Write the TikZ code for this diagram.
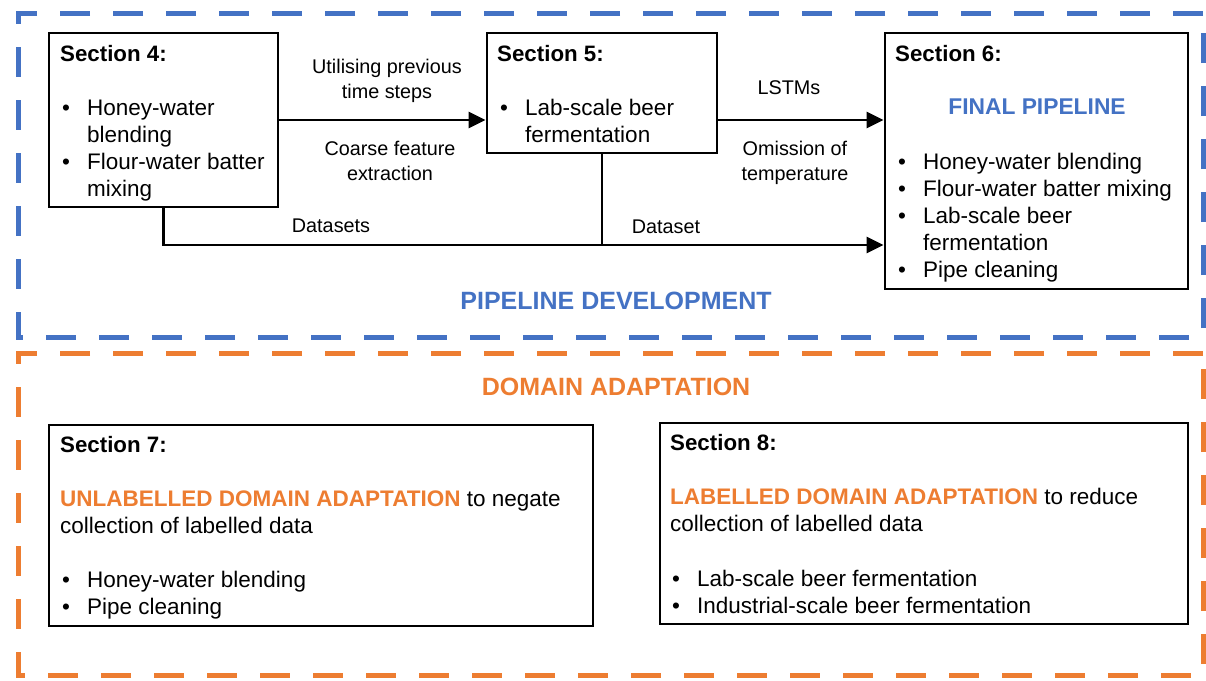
\documentclass[tikz,border=0pt]{standalone}
\usepackage{fontspec}
\setmainfont{Liberation Sans}
\usetikzlibrary{arrows.meta}
\definecolor{pblue}{HTML}{4472C4}
\definecolor{porange}{HTML}{ED7D31}
\begin{document}
\begin{tikzpicture}[x=1pt,y=-1pt,
  box/.style={draw=black,line width=2.8pt,inner sep=0pt},
  frame/.style={line width=5pt,dash pattern=on 30pt off 23pt},
  txt/.style={anchor=base west,inner sep=0pt,font=\fontsize{22.5}{27}\selectfont},
  head/.style={txt,font=\fontsize{22.3}{27}\selectfont\bfseries},
  bul/.style={anchor=base west,inner sep=0pt,font=\fontsize{22.5}{27}\selectfont},
  lab/.style={align=center,inner sep=0pt,font=\fontsize{19.8}{25}\selectfont},
  title/.style={inner sep=0pt,font=\fontsize{25}{30}\selectfont\bfseries},
  conn/.style={line width=2.8pt},
  arr/.style={conn,-{Triangle[length=17pt,width=16pt]}}]
\useasboundingbox (0,0) rectangle (1206,680);
% frames
\draw[frame,pblue] (1203,13) -- (18,13) -- (18,337) -- (1203,337) -- cycle;
\draw[frame,porange] (1203,353) -- (18,353) -- (18,675) -- (1203,675) -- cycle;
% boxes
\node[box,minimum width=229pt,minimum height=174pt] (s4) at (163.5,120) {};
\node[box,minimum width=230pt,minimum height=120pt] (s5) at (602,93) {};
\node[box,minimum width=303pt,minimum height=256pt] (s6) at (1036.5,161) {};
\node[box,minimum width=544pt,minimum height=201pt] (s7) at (321,525.5) {};
\node[box,minimum width=528pt,minimum height=201pt] (s8) at (924,523.5) {};
% section 4
\node[head] (h4) at (60,61) {Section 4:};
\node[bul] (b41) at (62,115) {•};
\node[txt] (t41) at (87,115) {Honey-water};
\node[txt] (t42) at (87,142) {blending};
\node[bul] (b42) at (62,169) {•};
\node[txt] (t43) at (87,169) {Flour-water batter};
\node[txt] (t44) at (87,196) {mixing};
% section 5
\node[head] (h5) at (497,61) {Section 5:};
\node[bul] (b51) at (500,115) {•};
\node[txt] (t51) at (525,115) {Lab-scale beer};
\node[txt] (t52) at (525,142) {fermentation};
% section 6
\node[head] (h6) at (895,61) {Section 6:};
\node[anchor=base,inner sep=0pt,font=\fontsize{22.8}{27}\selectfont\bfseries,text=pblue] (fp) at (1037,114) {FINAL PIPELINE};
\node[bul] (b61) at (898,169) {•};
\node[txt] (t61) at (923,169) {Honey-water blending};
\node[bul] (b62) at (898,196) {•};
\node[txt] (t62) at (923,196) {Flour-water batter mixing};
\node[bul] (b63) at (898,223) {•};
\node[txt] (t63) at (923,223) {Lab-scale beer};
\node[txt] (t64) at (923,250) {fermentation};
\node[bul] (b64) at (898,277) {•};
\node[txt] (t65) at (923,277) {Pipe cleaning};
% section 7
\node[head] (h7) at (60,452) {Section 7:};
\node[txt] (t71) at (60,506) {\textcolor{porange}{\bfseries UNLABELLED DOMAIN ADAPTATION} to negate};
\node[txt] (t72) at (60,533) {collection of labelled data};
\node[bul] (b71) at (62,587) {•};
\node[txt] (t73) at (87,587) {Honey-water blending};
\node[bul] (b72) at (62,614) {•};
\node[txt] (t74) at (87,614) {Pipe cleaning};
% section 8
\node[head] (h8) at (670,450) {Section 8:};
\node[txt] (t81) at (670,504) {\textcolor{porange}{\bfseries LABELLED DOMAIN ADAPTATION} to reduce};
\node[txt] (t82) at (670,531) {collection of labelled data};
\node[bul] (b81) at (672,586) {•};
\node[txt] (t83) at (697,586) {Lab-scale beer fermentation};
\node[bul] (b82) at (672,613) {•};
\node[txt] (t84) at (697,613) {Industrial-scale beer fermentation};
% titles
\node[title,text=pblue] (pd) at (616,301) {PIPELINE DEVELOPMENT};
\node[title,text=porange] (da) at (616,387) {DOMAIN ADAPTATION};
% connectors
\coordinate (j) at (602,245);
\draw[arr] (s4.east) -- (s4.east -| s5.west);
\draw[arr] (s5.east |- s4.east) -- (s6.west |- s4.east);
\draw[arr] (s4.south) |- (s6.west |- j);
\draw[conn] (s5.south) -- (j);
% labels
\node[lab] (l1) at (387,81) {Utilising previous\\time steps};
\node[lab] (l2) at (390,161) {Coarse feature\\extraction};
\node[lab] (l3) at (789,88) {LSTMs};
\node[lab] (l4) at (795,163) {Omission of\\temperature};
\node[lab] (l5) at (331,226) {Datasets};
\node[lab] (l6) at (666,227) {Dataset};
\end{tikzpicture}
\end{document}
